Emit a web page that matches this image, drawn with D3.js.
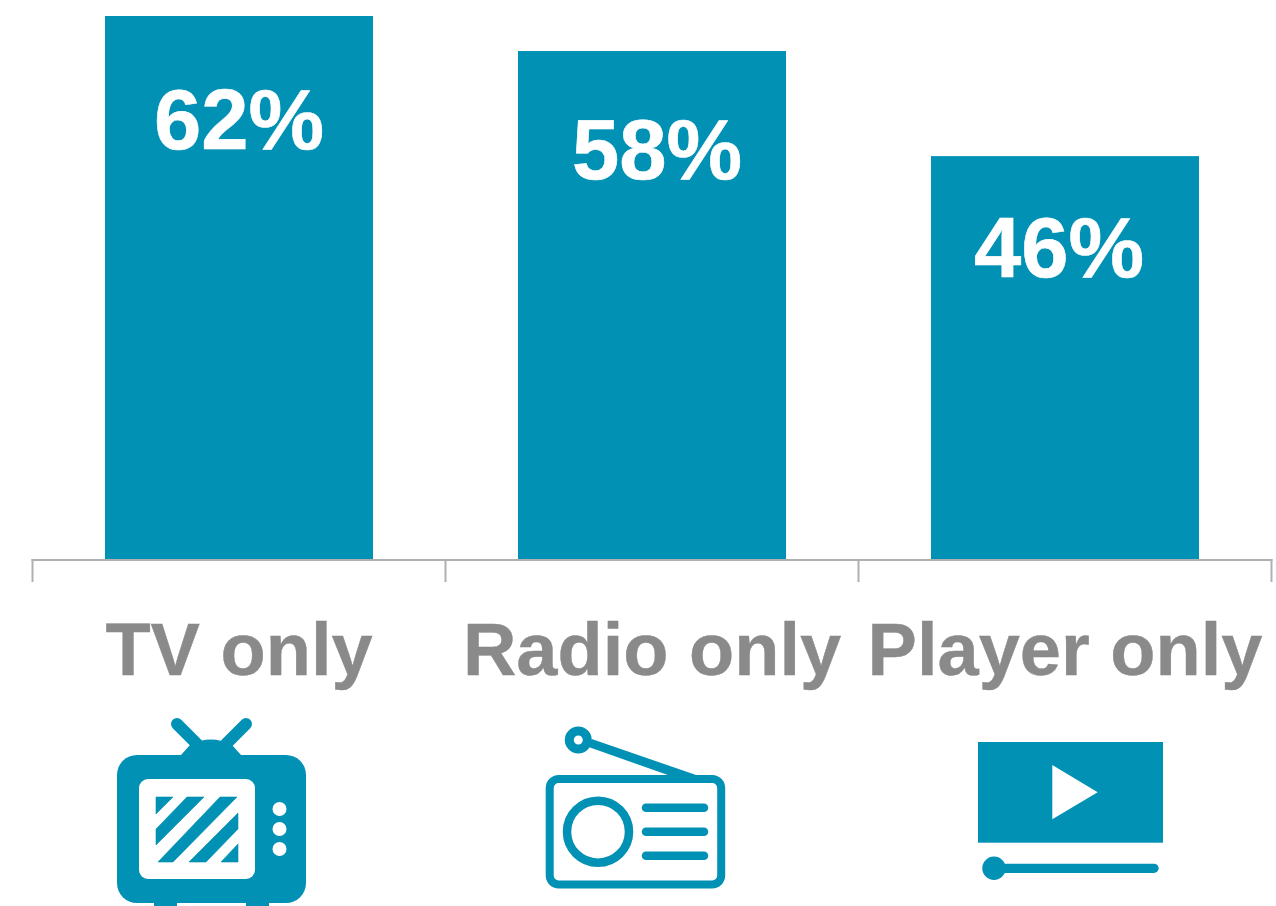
<!DOCTYPE html>
<html>
<head>
<meta charset="utf-8">
<script src="https://cdnjs.cloudflare.com/ajax/libs/d3/7.8.5/d3.min.js"></script>
<style>
  html, body { margin: 0; padding: 0; background: #fff; overflow: hidden; }
  svg { display: block; }
  text { font-family: "Liberation Sans", Arial, sans-serif; font-weight: 700; }
</style>
</head>
<body>
<svg id="chart" width="1276" height="906"></svg>
<script>
const categories = ["TV only", "Radio only", "Player only"];
const shares = [62, 58, 46];

const TEAL = "#0091b4";
const GREY_TEXT = "#8a8a8b";
const GREY_AXIS = "#b0b0b0";

const svg = d3.select("#chart");
const baseline = 559;

const x = d3.scaleBand()
  .domain(categories)
  .range([32.5, 1271.5])
  .paddingInner(0.351)
  .paddingOuter(0.1755);

const y = d3.scaleLinear().domain([0, 62]).range([baseline, 16]);

svg.selectAll("rect.bar")
  .data(categories)
  .join("rect")
  .attr("class", "bar")
  .attr("x", d => x(d))
  .attr("width", x.bandwidth())
  .attr("y", (d, i) => y(shares[i]))
  .attr("height", (d, i) => baseline - y(shares[i]))
  .attr("fill", TEAL);

// Category axis: a rule with separators on the band boundaries.
const step = x.step();
const edges = [0, 1, 2, 3].map(i => 32.5 + i * step);
svg.append("line")
  .attr("x1", edges[0] - 1).attr("x2", edges[3] + 1)
  .attr("y1", baseline + 1).attr("y2", baseline + 1)
  .attr("stroke", GREY_AXIS).attr("stroke-width", 2);
svg.selectAll("line.sep")
  .data(edges)
  .join("line")
  .attr("class", "sep")
  .attr("x1", d => d).attr("x2", d => d)
  .attr("y1", baseline).attr("y2", baseline + 23)
  .attr("stroke", GREY_AXIS).attr("stroke-width", 2);

// Value labels sit inside the bars, hand-nudged as in a slide layout.
const labelNudge = [[0, 133], [5, 128], [-6, 121]];
svg.selectAll("text.value")
  .data(shares)
  .join("text")
  .attr("class", "value")
  .attr("x", (d, i) => x(categories[i]) + x.bandwidth() / 2 + labelNudge[i][0])
  .attr("y", (d, i) => y(d) + labelNudge[i][1])
  .attr("text-anchor", "middle")
  .attr("font-size", 85)
  .attr("fill", "#fff")
  .attr("stroke", "#fff")
  .attr("stroke-width", 0.6)
  .text(d => d + "%");

svg.selectAll("text.cat")
  .data(categories)
  .join("text")
  .attr("class", "cat")
  .attr("x", d => x(d) + x.bandwidth() / 2)
  .attr("y", 675)
  .attr("text-anchor", "middle")
  .attr("font-size", 74)
  .attr("fill", GREY_TEXT)
  .attr("stroke", GREY_TEXT)
  .attr("stroke-width", 0.4)
  .text(d => d);

const bandCentre = i => x(categories[i]) + x.bandwidth() / 2;

// Television icon
const tv = svg.append("g").attr("transform", `translate(${bandCentre(0) - 239},0)`);
tv.append("path").attr("fill", TEAL)
  .attr("d", "M181,755 L190,745 Q211,734 232,745 L241,755 Z");
tv.selectAll("line.ant")
  .data([[177, 724, 198, 745], [246, 724, 225, 745]])
  .join("line")
  .attr("x1", d => d[0]).attr("y1", d => d[1]).attr("x2", d => d[2]).attr("y2", d => d[3])
  .attr("stroke", TEAL).attr("stroke-width", 12).attr("stroke-linecap", "round");
tv.append("rect").attr("x", 117).attr("y", 755).attr("width", 189).attr("height", 148).attr("rx", 20).attr("fill", TEAL);
tv.selectAll("rect.foot")
  .data([154, 246])
  .join("rect")
  .attr("x", d => d).attr("y", 900).attr("width", 23).attr("height", 6).attr("fill", TEAL);
tv.append("rect").attr("x", 139).attr("y", 779).attr("width", 116).attr("height", 100).attr("rx", 9).attr("fill", "#fff");
tv.selectAll("path.stripe")
  .data([
    "M156,797 L173,797 L156,814 Z",
    "M187,797 L204,797 L156,845 L156,829 Z",
    "M220,797 L237,797 L173,862 L158,862 Z",
    "M238,813 L238,829 L206,862 L189,862 Z",
    "M238,844 L238,862 L221,862 Z"
  ])
  .join("path")
  .attr("class", "stripe")
  .attr("d", d => d)
  .attr("fill", TEAL)
  .attr("stroke", TEAL)
  .attr("stroke-width", 0.6)
  .attr("stroke-linejoin", "round");
tv.selectAll("circle.knob")
  .data([809, 829, 849])
  .join("circle")
  .attr("cx", 279.5).attr("cy", d => d).attr("r", 7).attr("fill", "#fff");

// Radio icon
const radio = svg.append("g").attr("transform", `translate(${bandCentre(1) - 652},0)`);
radio.append("rect").attr("x", 549.7).attr("y", 779).attr("width", 171.5).attr("height", 105.5).attr("rx", 9)
  .attr("fill", "none").attr("stroke", TEAL).attr("stroke-width", 8);
radio.append("circle").attr("cx", 598).attr("cy", 831.7).attr("r", 31)
  .attr("fill", "none").attr("stroke", TEAL).attr("stroke-width", 8.5);
radio.selectAll("line.grille")
  .data([807.7, 831.7, 855.7])
  .join("line")
  .attr("x1", 646).attr("x2", 704).attr("y1", d => d).attr("y2", d => d)
  .attr("stroke", TEAL).attr("stroke-width", 8.5).attr("stroke-linecap", "round");
radio.append("path").attr("fill", TEAL)
  .attr("d", "M591.7,739 L697.5,775.5 L669.3,775.5 L589.3,747.3 Z");
radio.append("circle").attr("cx", 578.3).attr("cy", 740).attr("r", 9)
  .attr("fill", "#fff").attr("stroke", TEAL).attr("stroke-width", 9);

// Video player icon
const player = svg.append("g").attr("transform", `translate(${bandCentre(2) - 1065},0)`);
player.append("rect").attr("x", 978).attr("y", 742).attr("width", 185).attr("height", 100.7).attr("fill", TEAL);
player.append("path").attr("fill", "#fff").attr("d", "M1052.3,765 L1097.7,792.3 L1052.3,819.3 Z");
player.append("line").attr("x1", 994).attr("x2", 1154).attr("y1", 868.3).attr("y2", 868.3)
  .attr("stroke", TEAL).attr("stroke-width", 9.3).attr("stroke-linecap", "round");
player.append("circle").attr("cx", 994).attr("cy", 868.3).attr("r", 11.7).attr("fill", TEAL);
</script>
</body>
</html>
